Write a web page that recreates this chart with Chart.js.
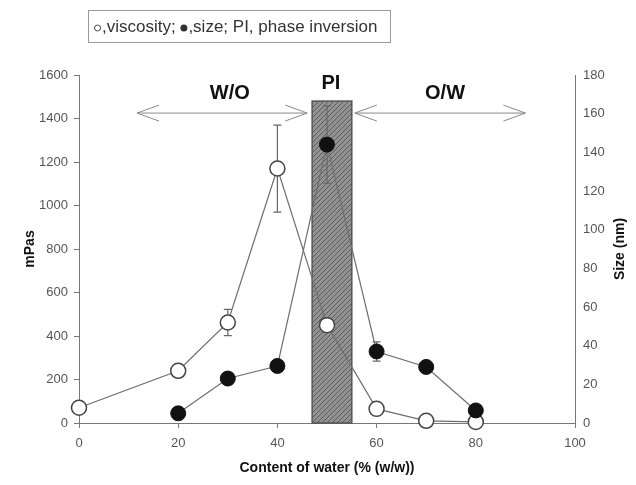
<!DOCTYPE html>
<html lang="en">
<head>
<meta charset="UTF-8">
<title>Viscosity and droplet size vs water content</title>
<style>
    body { margin: 0; background: #fff; }
    canvas { display: block; }
</style>
</head>
<body>
<canvas id="chart" width="636" height="485"></canvas>
<script src="https://cdn.jsdelivr.net/npm/chart.js@4"></script>
<script>
// Data
const waterContent = [0, 20, 30, 40, 50, 60, 70, 80];
const viscosity = [70, 240, 462, 1170, 450, 65, 10, 5];
const viscosityErr = [0, 25, 60, 200, 0, 0, 0, 0];

const sizeWater = [20, 30, 40, 50, 60, 70, 80];
const sizeNm = [5, 23, 29.5, 144, 37, 29, 6.5];
const sizeErr = [0, 0, 0, 20, 5, 0, 0];

// phase inversion band (x range) and its height on the mPas axis
const piRange = [47, 55];
const piTop = 1480;

const FONT = 'Arial, "Liberation Sans", sans-serif';
const LINE = '#6e6e6e';

function hatch(ctx) {
    const c = document.createElement('canvas');
    c.width = 5; c.height = 5;
    const g = c.getContext('2d');
    g.fillStyle = '#929292';
    g.fillRect(0, 0, 5, 5);
    g.strokeStyle = '#5c5c5c';
    g.lineWidth = 1;
    g.beginPath();
    g.moveTo(-1, 6); g.lineTo(6, -1);
    g.moveTo(-1, 1); g.lineTo(1, -1);
    g.moveTo(4, 6); g.lineTo(6, 4);
    g.stroke();
    return ctx.createPattern(c, 'repeat');
}

function arrow(ctx, xa, xb, yy) {
    ctx.beginPath();
    ctx.moveTo(xa, yy); ctx.lineTo(xb, yy);
    ctx.moveTo(xa + 22, yy - 8); ctx.lineTo(xa, yy); ctx.lineTo(xa + 22, yy + 8);
    ctx.moveTo(xb - 22, yy - 8); ctx.lineTo(xb, yy); ctx.lineTo(xb - 22, yy + 8);
    ctx.stroke();
}

const overlay = {
    id: 'overlay',
    beforeDatasetsDraw(chart) {
        const { ctx, scales: { x, y } } = chart;
        ctx.save();

        // PI box
        const bx0 = x.getPixelForValue(piRange[0]);
        const bx1 = x.getPixelForValue(piRange[1]);
        const by0 = y.getPixelForValue(piTop);
        const by1 = y.getPixelForValue(0);
        ctx.fillStyle = hatch(ctx);
        ctx.fillRect(bx0, by0, bx1 - bx0, by1 - by0);
        ctx.strokeStyle = '#555';
        ctx.lineWidth = 1.5;
        ctx.strokeRect(bx0, by0, bx1 - bx0, by1 - by0);

        // arrows W/O and O/W
        ctx.strokeStyle = '#8a8a8a';
        ctx.lineWidth = 1;
        const ay = y.getPixelForValue(1425);
        arrow(ctx, x.getPixelForValue(11.7), x.getPixelForValue(46), ay);
        arrow(ctx, x.getPixelForValue(55.6), x.getPixelForValue(90), ay);

        // error bars
        ctx.strokeStyle = '#666';
        ctx.lineWidth = 1.2;
        chart.data.datasets.forEach(ds => {
            const sc = chart.scales[ds.yAxisID];
            ds.data.forEach((p, i) => {
                const e = ds.errors[i];
                if (!e) return;
                const px = x.getPixelForValue(p.x);
                const t = sc.getPixelForValue(p.y + e);
                const b = sc.getPixelForValue(p.y - e);
                ctx.beginPath();
                ctx.moveTo(px, t); ctx.lineTo(px, b);
                ctx.moveTo(px - 4, t); ctx.lineTo(px + 4, t);
                ctx.moveTo(px - 4, b); ctx.lineTo(px + 4, b);
                ctx.stroke();
            });
        });
        ctx.restore();
    },
    afterDraw(chart) {
        const { ctx, scales: { x, y } } = chart;
        ctx.save();
        ctx.fillStyle = '#111';
        ctx.textAlign = 'center';
        ctx.textBaseline = 'middle';
        ctx.font = 'bold 20px ' + FONT;
        ctx.fillText('W/O', x.getPixelForValue(30.4), y.getPixelForValue(1517));
        ctx.fillText('O/W', x.getPixelForValue(73.8), y.getPixelForValue(1517));
        ctx.fillText('PI', x.getPixelForValue(50.8), y.getPixelForValue(1560));

        // right axis title, reading upwards
        ctx.font = 'bold 14px ' + FONT;
        ctx.translate(620, (chart.chartArea.top + chart.chartArea.bottom) / 2);
        ctx.rotate(-Math.PI / 2);
        ctx.fillText('Size (nm)', 0, 0);
        ctx.setTransform(1, 0, 0, 1, 0, 0);

        // legend box
        ctx.strokeStyle = '#9a9a9a';
        ctx.lineWidth = 1;
        ctx.strokeRect(88.5, 10.5, 302, 32);
        ctx.font = '17px ' + FONT;
        ctx.textAlign = 'left';
        ctx.fillStyle = '#333';
        let tx = 94;
        const ty = 27;
        ctx.beginPath();
        ctx.arc(tx + 3.5, ty + 1, 3, 0, Math.PI * 2);
        ctx.strokeStyle = '#444';
        ctx.stroke();
        tx += 8;
        const t1 = ',viscosity; ';
        ctx.fillText(t1, tx, ty);
        tx += ctx.measureText(t1).width;
        ctx.beginPath();
        ctx.arc(tx + 3.5, ty + 1, 3.5, 0, Math.PI * 2);
        ctx.fill();
        tx += 8;
        ctx.fillText(',size; PI, phase inversion', tx, ty);
        ctx.restore();
    }
};

const tickFont = { family: FONT, size: 13 };
const titleFont = { family: FONT, size: 14, weight: 'bold' };
const plain = v => String(v);

new Chart(document.getElementById('chart'), {
    type: 'scatter',
    data: {
        datasets: [
            {
                label: 'size',
                yAxisID: 'y1',
                data: sizeWater.map((w, i) => ({ x: w, y: sizeNm[i] })),
                errors: sizeErr,
                showLine: true,
                clip: false,
                borderColor: LINE,
                borderWidth: 1.2,
                pointRadius: 7.5,
                pointBackgroundColor: '#111',
                pointBorderColor: '#111',
                pointBorderWidth: 1
            },
            {
                label: 'viscosity',
                yAxisID: 'y',
                data: waterContent.map((w, i) => ({ x: w, y: viscosity[i] })),
                errors: viscosityErr,
                showLine: true,
                clip: false,
                borderColor: LINE,
                borderWidth: 1.2,
                pointRadius: 7.5,
                pointBackgroundColor: '#fff',
                pointBorderColor: '#444',
                pointBorderWidth: 1.5
            }
        ]
    },
    options: {
        responsive: false,
        animation: false,
        layout: { padding: { top: 75, left: 0, right: 0, bottom: 0 } },
        plugins: { legend: { display: false }, tooltip: { enabled: false } },
        scales: {
            x: {
                type: 'linear',
                min: 0, max: 100,
                ticks: { stepSize: 20, font: tickFont, color: '#555', padding: 8, callback: plain },
                grid: { drawOnChartArea: false, tickLength: 5, color: '#777' },
                border: { color: '#777' },
                title: { display: true, text: 'Content of water (% (w/w))', font: titleFont, color: '#111', padding: { bottom: 8 } },
                afterFit: s => { s.height = 62; }
            },
            y: {
                position: 'left',
                min: 0, max: 1600,
                ticks: { stepSize: 200, font: tickFont, color: '#555', padding: 6, callback: plain },
                grid: { drawOnChartArea: false, tickLength: 5, color: '#777' },
                border: { color: '#777' },
                title: { display: true, text: 'mPas', font: titleFont, color: '#111', padding: { top: 22 } },
                afterFit: s => { s.width = 79; }
            },
            y1: {
                position: 'right',
                min: 0, max: 180,
                ticks: { stepSize: 20, font: tickFont, color: '#555', padding: 8, callback: plain },
                grid: { drawOnChartArea: false, drawTicks: false, color: '#777' },
                border: { color: '#777' },
                afterFit: s => { s.width = 61; }
            }
        }
    },
    plugins: [overlay]
});
</script>
</body>
</html>
